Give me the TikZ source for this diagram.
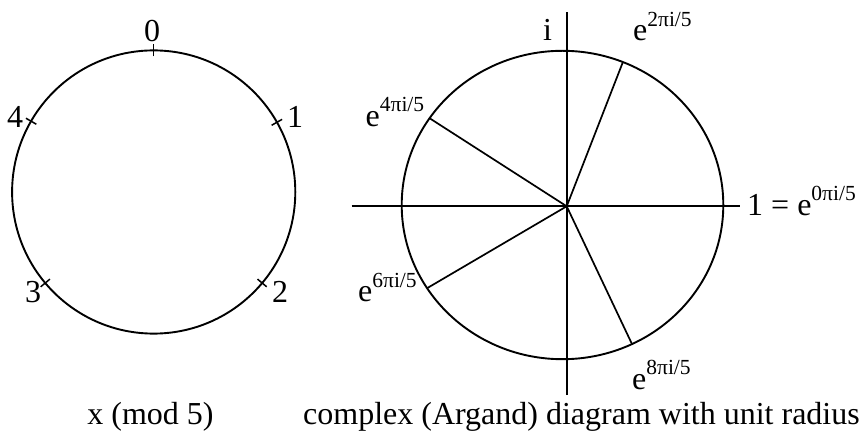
\documentclass[tikz,border=0pt]{standalone}
\usepackage{fontspec}
\setmainfont{Liberation Serif}
\usetikzlibrary{calc}
\newcommand{\expo}[1]{e\raisebox{14.5pt}{\fontsize{21.5}{21.5}\selectfont #1πi/5}}
\begin{document}
\begin{tikzpicture}[x=1pt, y=1pt,
            lbl/.style={inner sep=0pt, font=\fontsize{32}{36}\selectfont},
            curve/.style={line width=1.9pt},
            axis/.style={line width=1.9pt},
            spoke/.style={line width=1.7pt},
            tickmark/.style={line width=1.5pt}
        ]
        \useasboundingbox (0,0) rectangle (861,439);

        % --- left: x (mod 5) ---
        \coordinate (lc) at (153.7, 247);
        \draw[curve] (lc) circle[radius=141.6pt];
        \foreach \ang in {90, 29.5, -40, 220, 150}
            \draw[tickmark] ($(lc)+(\ang:135.5pt)$) -- ($(lc)+(\ang:147.5pt)$);
        \node[lbl, anchor=base] (m0) at (152, 397.3) {0};
        \node[lbl, anchor=base west] (m1) at (287, 311.3) {1};
        \node[lbl, anchor=base west] (m2) at (272, 136.3) {2};
        \node[lbl, anchor=base west] (m3) at (25, 136.3) {3};
        \node[lbl, anchor=base west] (m4) at (7, 311.3) {4};
        \node[lbl, anchor=base] (capmod) at (150.5, 15) {x (mod 5)};

        % --- right: Argand diagram ---
        \coordinate (o) at (566.7, 232.7);
        \draw[curve] (562.5, 234) ellipse[x radius=160.8pt, y radius=154.2pt];
        \coordinate (xl) at (351.7, 232.7);
        \coordinate (xr) at (740, 232.7);
        \coordinate (yb) at (566.7, 44);
        \coordinate (yt) at (566.7, 427.3);
        \draw[axis] (xl) -- (xr);
        \draw[axis] (yb) -- (yt);
        \coordinate (s2) at (622.8, 376.7);
        \coordinate (s4) at (429.7, 320.7);
        \coordinate (s6) at (426.9, 150.7);
        \coordinate (s8) at (632.1, 94.7);
        \foreach \s in {s2, s4, s6, s8}
            \draw[spoke] (o) -- (\s);
        \node[lbl, anchor=base] (im) at (547.6, 398.3) {i};
        \node[lbl, anchor=base west] (e2) at (633, 398.3) {\expo{2}};
        \node[lbl, anchor=base west] (e4) at (365.5, 312.5) {\expo{4}};
        \node[lbl, anchor=base west] (e0) at (747, 223.5) {1 = \expo{0}};
        \node[lbl, anchor=base west] (e6) at (358, 137.3) {\expo{6}};
        \node[lbl, anchor=base west] (e8) at (632, 49.7) {\expo{8}};
        \node[lbl, anchor=base] (capargand) at (581.5, 15) {complex (Argand) diagram with unit radius};
\end{tikzpicture}
\end{document}
